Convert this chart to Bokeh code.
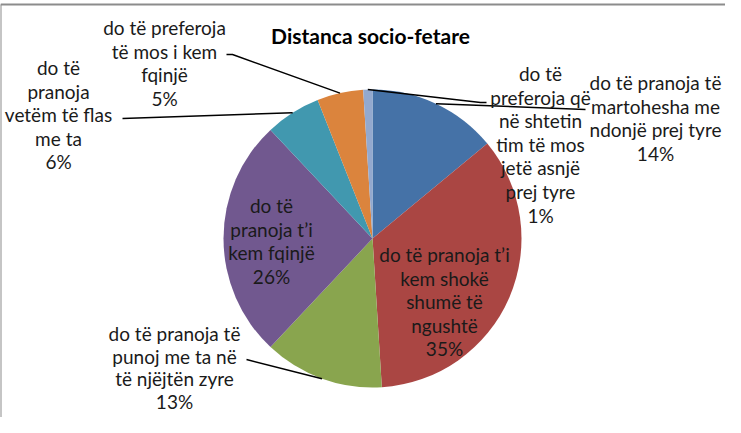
import math
from bokeh.plotting import figure
from bokeh.models import Range1d, ColumnDataSource
from bokeh.core.properties import value
from bokeh.embed import file_html
from bokeh.resources import INLINE

# ---- data ----
title = "Distanca socio-fetare"
categories = [
    "do të pranoja të martohesha me ndonjë prej tyre",
    "do të pranoja t’i kem shokë shumë të ngushtë",
    "do të pranoja të punoj me ta në të njëjtën zyre",
    "do të pranoja t’i kem fqinjë",
    "do të pranoja vetëm të flas me ta",
    "do të preferoja të mos i kem fqinjë",
    "do të preferoja që në shtetin tim të mos jetë asnjë prej tyre",
]
values = [14, 35, 13, 26, 6, 5, 1]
colors = ["#4572A7", "#AA4643", "#89A54E", "#71588F", "#4198AF", "#DB843D", "#93A9CF"]

# ---- layout (page pixel coordinates of the reference) ----
W, H = 725, 417
def X(px): return px - 8
def Y(py): return H + 8 - py

CX, CY, R = 380, 246, 149
FONT = "Lato"
FS = "19px"
LINE_H = 23.6

# wrapped label lines, centre x, first line y, line spacing, leader end points
label_layout = [
    (["do të pranoja të", "martohesha me", "ndonjë prej tyre"], 663, 90, LINE_H, [(593, 117)]),
    (["do të pranoja t’i", "kem shokë", "shumë të", "ngushtë"], 452, 262, LINE_H, None),
    (["do të pranoja të", "punoj me ta në", "të njëjtën zyre"], 182, 341, 22.5, [(254, 367)]),
    (["do të", "pranoja t’i", "kem fqinjë"], 279, 213, LINE_H, None),
    (["do të", "pranoja", "vetëm të flas", "me ta"], 66, 75, LINE_H, [(130, 126)]),
    (["do të preferoja", "të mos i kem", "fqinjë"], 172, 35, LINE_H, [(240, 62), (234, 62)]),
    (["do të", "preferoja që", "në shtetin", "tim të mos", "jetë asnjë", "prej tyre"], 548, 81, LINE_H, [(488, 110), (494, 110)]),
]

p = figure(width=W, height=H, output_backend="svg", toolbar_location=None,
           x_range=Range1d(0, W), y_range=Range1d(0, H), min_border=0,
           x_axis_location=None, y_axis_location=None,
           background_fill_color="white", border_fill_color="white")
p.grid.visible = False
p.outline_line_color = None

# frame border (top & left visible in reference)
p.line(x=[X(8), X(8)], y=[Y(12), 0], line_color="#8c8c8c", line_width=2)
p.line(x=[X(8), W], y=[Y(12), Y(12)], line_color="#8c8c8c", line_width=2)

# pie
total = float(sum(values))
starts, ends, mids = [], [], []
cum = 0.0
for v in values:
    a0 = math.pi / 2 - 2 * math.pi * cum / total
    cum += v
    a1 = math.pi / 2 - 2 * math.pi * cum / total
    starts.append(a0); ends.append(a1); mids.append((a0 + a1) / 2)

src = ColumnDataSource(dict(start=starts, end=ends, color=colors, cat=categories, val=values))
p.wedge(x=X(CX), y=Y(CY), radius=R, start_angle="start", end_angle="end",
        direction="clock", fill_color="color", line_color=None, source=src)

# leader lines
for i, (lines, cx, y0, lh, leader) in enumerate(label_layout):
    if leader is None:
        continue
    sx = X(CX) + R * math.cos(mids[i])
    sy = Y(CY) + R * math.sin(mids[i])
    xs = [sx] + [X(a) for a, b in leader]
    ys = [sy] + [Y(b) for a, b in leader]
    p.line(x=xs, y=ys, line_color="black", line_width=1.5)

# labels
tx, ty, tt = [], [], []
for i, (lines, cx, y0, lh, leader) in enumerate(label_layout):
    all_lines = lines + [f"{values[i] / total * 100:.0f}%"]
    for j, s in enumerate(all_lines):
        tx.append(X(cx)); ty.append(Y(y0 + j * lh)); tt.append(s)
p.text(x=tx, y=ty, text=tt, text_font=value(FONT), text_font_size=FS,
       text_align="center", text_baseline="middle", text_color="#1a1a1a")

# title
p.text(x=[X(378)], y=[Y(43)], text=[title], text_font=value(FONT), text_font_size="21px",
       text_font_style="bold", text_align="center", text_baseline="middle", text_color="black")

open("out.html", "w").write(file_html(p, INLINE))
